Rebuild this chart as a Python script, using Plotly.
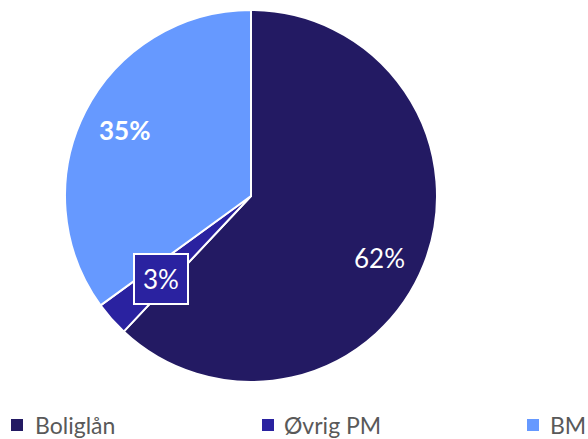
import plotly.graph_objects as go

labels = ["Boliglån", "Øvrig PM", "BM"]
values = [62, 3, 35]
colors = ["#231A63", "#2A22A0", "#6699FF"]
label_text = [f"{v}%" for v in values]

W, H = 588, 439
cx, cy, r = 251, 196, 186

fig = go.Figure()
fig.add_trace(go.Pie(
    labels=labels, values=values, sort=False, direction="clockwise", rotation=0,
    marker=dict(colors=colors, line=dict(color="white", width=2)),
    textinfo="none", hoverinfo="label+percent",
    domain=dict(x=[(cx - r) / W, (cx + r) / W], y=[1 - (cy + r) / H, 1 - (cy - r) / H]),
))

font_family = "Lato, 'Open Sans', sans-serif"
ann_pos = [(379, 258), (161, 279), (125, 130)]
for i, (txt, (px, py)) in enumerate(zip(label_text, ann_pos)):
    a = dict(x=px / W, y=1 - py / H, xref="paper", yref="paper", text=txt, showarrow=False,
             font=dict(family=font_family, size=26, color="white"), xanchor="center", yanchor="middle")
    if i == 1:
        a.update(bgcolor=colors[1], bordercolor="white", borderwidth=2, borderpad=8)
    if i == 2:
        a["text"] = f"<b>{txt}</b>"
    fig.add_annotation(**a)

# legend: key squares + labels
sq_x = [11, 262, 527]
txt_x = [33, 282, 548]
for lab, col, sx, tx in zip(labels, colors, sq_x, txt_x):
    fig.add_shape(type="rect", xref="paper", yref="paper",
                  x0=sx / W, x1=(sx + 12) / W, y0=1 - 431 / H, y1=1 - 419 / H,
                  fillcolor=col, line=dict(width=0))
    fig.add_annotation(x=tx / W, y=1 - 425 / H, xref="paper", yref="paper", showarrow=False,
                       xanchor="left", yanchor="middle", text=lab,
                       font=dict(family=font_family, size=23, color="#595959"))

fig.update_layout(
    width=W, height=H, margin=dict(l=0, r=0, t=0, b=0),
    paper_bgcolor="white", plot_bgcolor="white",
    showlegend=False,
)
fig.write_html("out.html")
